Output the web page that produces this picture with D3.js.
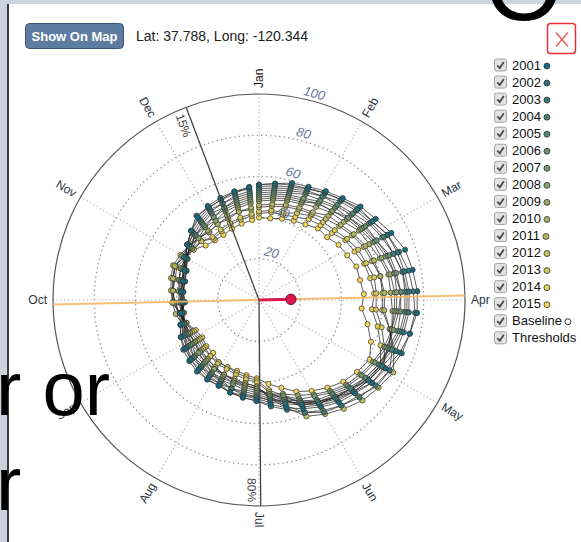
<!DOCTYPE html>
<html><head><meta charset="utf-8">
<script src="https://cdn.jsdelivr.net/npm/d3@7"></script>
<style>
html,body{margin:0;padding:0;background:#c9d4de;overflow:hidden;}
svg{display:block;font-family:"Liberation Sans",Arial,Helvetica,sans-serif;}
</style></head><body>
<script>
// ---------- data ----------
const years = [2001,2002,2003,2004,2005,2006,2007,2008,2009,2010,2011,2012,2013,2014,2015];
// 8-day composites, day of year of each composite
const compositeDays = d3.range(1, 366, 8);
const ndvi2001 = [56,57,59,60,62,64,67,69,72,75,76,77,77,75,73,70,68,65,63,60,57,54,51,49,48,47,46,46,45,44,43,42,40,39,37,38,38,39,42,44,47,50,52,53,54,55];
const ndvi2002 = [56,57,58,59,61,63,65,67,70,71,72,73,73,72,71,68,66,64,61,58,55,52,50,48,47,47,45,45,44,44,42,41,39,38,36,37,37,38,41,44,47,49,51,52,53,55];
const ndvi2003 = [55,56,57,59,61,63,66,67,70,72,74,75,76,75,74,72,70,68,65,63,59,55,52,49,48,47,46,46,46,45,44,42,40,38,37,37,38,38,41,44,47,51,51,52,54,54];
const ndvi2004 = [54,55,56,58,59,62,64,66,68,69,71,72,72,71,69,67,66,62,60,57,54,51,49,47,47,45,45,44,43,43,42,40,38,38,36,37,38,39,40,43,46,48,50,50,52,53];
const ndvi2005 = [53,54,55,57,59,60,62,65,67,69,71,71,71,70,68,66,64,61,58,56,53,50,49,47,46,45,44,43,43,42,41,40,39,38,38,38,39,39,41,44,45,47,49,50,51,52];
const ndvi2006 = [52,53,54,56,57,59,61,63,64,67,68,69,69,69,67,67,65,63,60,57,54,51,48,46,45,45,43,43,42,42,40,39,38,37,37,37,37,38,40,43,44,46,48,48,50,51];
const ndvi2007 = [51,52,53,54,56,58,59,62,64,66,67,69,68,67,66,64,62,60,57,54,52,48,47,45,44,43,43,42,41,41,39,39,38,38,37,38,38,40,41,42,44,45,46,48,49,50];
const ndvi2008 = [50,51,52,53,55,56,59,61,63,65,67,67,67,66,65,63,61,59,56,53,50,47,46,44,43,42,42,42,40,39,39,38,38,37,38,38,39,39,41,42,44,44,46,47,48,49];
const ndvi2009 = [49,50,51,52,55,56,58,60,62,63,65,66,66,66,67,66,64,62,59,57,53,49,46,43,42,42,41,40,39,38,38,37,38,38,38,39,40,41,41,42,42,44,44,46,47,48];
const ndvi2010 = [48,49,50,51,53,55,56,59,60,62,64,64,65,66,67,68,66,64,60,58,55,50,47,43,42,41,40,40,40,39,37,38,37,38,39,39,40,41,41,41,42,42,44,44,46,47];
const ndvi2011 = [46,47,48,49,50,53,54,56,58,59,60,61,61,65,69,72,71,67,65,62,59,53,47,42,41,41,40,39,38,38,37,38,39,41,42,42,43,44,43,43,42,41,42,43,44,45];
const ndvi2012 = [45,46,47,48,49,51,53,55,57,58,60,60,60,65,70,74,72,70,67,64,61,54,48,42,41,40,40,39,38,37,36,37,38,39,42,43,44,45,44,43,42,41,42,42,44,44];
const ndvi2013 = [43,44,44,46,48,49,50,52,54,55,57,57,57,61,65,69,68,64,62,59,56,50,45,40,39,38,37,37,36,36,35,36,37,39,41,42,43,44,42,41,40,38,39,40,41,42];
const ndvi2014 = [42,43,43,44,46,47,48,51,52,54,55,56,55,59,63,67,65,62,60,58,54,48,44,39,38,37,36,36,36,35,34,35,37,39,42,42,43,44,42,40,40,37,38,39,40,41];
const ndvi2015 = [40,40,41,42,43,45,45,47,48,50,50,51,50,54,58,61,59,57,54,51,48,44,41,38,37,36,36,36,34,34,33,34,37,39,41,42,42,43,41,40,37,36,36,37,38,39];
const series = [ndvi2001,ndvi2002,ndvi2003,ndvi2004,ndvi2005,ndvi2006,ndvi2007,ndvi2008,ndvi2009,ndvi2010,ndvi2011,ndvi2012,ndvi2013,ndvi2014,ndvi2015];
const monthLabels = ["Jan","Feb","Mar","Apr","May","Jun","Jul","Aug","Sep","Oct","Nov","Dec"];
const radialTicks = [20,40,60,80,100];
const thresholdLabels = ["15%","80%"];
const thresholdDays = [345,183];
const baselineDay = 91;
const centroidDay = 91;
const centroidValue = 15.5;
const legendExtras = ["Baseline","Thresholds"];
const latText = "Lat: 37.788, Long: -120.344";

// ---------- layout ----------
const W = 581, H = 542, cx = 259, cy = 300, R = 206;
const svg = d3.select("body").append("svg").attr("width", W).attr("height", H);

svg.append("rect").attr("width", W).attr("height", H).attr("fill", "#c9d4de");
svg.append("rect").attr("x", 9).attr("y", 4).attr("width", W - 9).attr("height", H - 4).attr("fill", "#fff");
svg.append("line").attr("x1", 8).attr("x2", 8).attr("y1", 4).attr("y2", H).attr("stroke", "#3a3a3a").attr("stroke-width", 2);

// button + coordinates
svg.append("rect").attr("x", 25.5).attr("y", 23.5).attr("width", 98).attr("height", 25).attr("rx", 4)
  .attr("fill", "#5d7ca2").attr("stroke", "#3d5473").attr("stroke-width", 1);
svg.append("text").attr("x", 74.5).attr("y", 36).attr("text-anchor", "middle").attr("dominant-baseline", "central")
  .attr("fill", "#fff").attr("font-weight", "bold").attr("font-size", 13).text("Show On Map");
svg.append("text").attr("x", 136).attr("y", 41).attr("fill", "#222").attr("font-size", 14).text(latText);

// close button
svg.append("rect").attr("x", 547.5).attr("y", 23.5).attr("width", 28).attr("height", 30).attr("rx", 3)
  .attr("fill", "#fff").attr("stroke", "#e53238").attr("stroke-width", 1.5);
svg.append("path").attr("d", "M556,32.5L568,46.5M568,32.5L556,46.5").attr("stroke", "#f05a5f").attr("stroke-width", 1.5).attr("fill", "none");

// ---------- scales ----------
const ang = d3.scaleLinear().domain([1, 366]).range([0, 2 * Math.PI]);
const rad = d3.scaleLinear().domain([0, 100]).range([0, R]);
const monthAng = d3.scaleLinear().domain([0, 12]).range([0, 360]);
const color = d3.scaleLinear().domain([0, years.length - 1]).range(["#19697e", "#f2d657"]).interpolate(d3.interpolateRgb);
const px = (a, r) => r * Math.sin(a);
const py = (a, r) => -r * Math.cos(a);

const g = svg.append("g").attr("transform", `translate(${cx},${cy})`);

// grid circles
g.selectAll("circle.grid").data(radialTicks.slice(0, -1)).join("circle")
  .attr("r", d => rad(d)).attr("fill", "none").attr("stroke", "#8a8a8a")
  .attr("stroke-width", 1.3).attr("stroke-dasharray", "1.3,3.2");
// spokes
g.selectAll("line.spoke").data(monthLabels).join("line")
  .attr("x1", 0).attr("y1", 0)
  .attr("x2", (d, i) => px(monthAng(i) * Math.PI / 180, R))
  .attr("y2", (d, i) => py(monthAng(i) * Math.PI / 180, R))
  .attr("stroke", "#b0b0b0").attr("stroke-width", 1.2).attr("stroke-dasharray", "1.2,2.6");
// outer circle
g.append("circle").attr("r", rad(100)).attr("fill", "none").attr("stroke", "#555").attr("stroke-width", 1.2);

// month labels
g.selectAll("text.month").data(monthLabels).join("text")
  .each(function (d, i) {
    const deg = monthAng(i);
    let rot = deg - 90, anchor = "start";
    if (rot > 90) { rot -= 180; anchor = "end"; }
    const a = deg * Math.PI / 180, x = px(a, 212), y = py(a, 212);
    d3.select(this).attr("x", x).attr("y", y).attr("text-anchor", anchor)
      .attr("dominant-baseline", "central").attr("transform", `rotate(${rot},${x},${y})`);
  })
  .attr("font-size", 12).attr("fill", (d, i) => i === 0 ? "#111" : "#2a3444").text(d => d);

// ---------- series ----------
const line = d3.lineRadial().angle((d, i) => ang(compositeDays[i])).radius(d => rad(d));
const order = d3.range(series.length).reverse();
order.forEach(k => {
  const sg = g.append("g");
  sg.append("path").attr("d", line(series[k])).attr("fill", "none")
    .attr("stroke", "#1e1e1e").attr("stroke-opacity", 0.72).attr("stroke-width", 1);
});
order.forEach(k => {
  g.append("g").selectAll("circle").data(series[k]).join("circle")
    .attr("cx", (d, i) => px(ang(compositeDays[i]), rad(d)))
    .attr("cy", (d, i) => py(ang(compositeDays[i]), rad(d)))
    .attr("r", 2.6).attr("fill", color(k)).attr("stroke", "#333").attr("stroke-width", 0.7);
});

// baseline (orange diameter)
const ba = ang(baselineDay);
g.append("line").attr("x1", px(ba, -R)).attr("y1", py(ba, -R)).attr("x2", px(ba, R)).attr("y2", py(ba, R))
  .attr("stroke", "#f2b45a").attr("stroke-opacity", 0.85).attr("stroke-width", 2);

// thresholds
thresholdDays.forEach((day, j) => {
  const a = ang(day);
  g.append("line").attr("x1", 0).attr("y1", 0).attr("x2", px(a, R)).attr("y2", py(a, R))
    .attr("stroke", "#444").attr("stroke-width", 1.3);
  const deg = a * 180 / Math.PI;
  let rot = deg - 90, flip = false;
  if (rot > 90) { rot -= 180; flip = true; }
  const x = px(a, 190), y = py(a, 190);
  g.append("text").attr("transform", `translate(${x},${y}) rotate(${rot})`)
    .attr("x", 0).attr("y", 9).attr("text-anchor", "middle").attr("dominant-baseline", "central")
    .attr("font-size", 12).attr("fill", "#444").text(thresholdLabels[j]);
});

// radial tick labels
const ta = 15 * Math.PI / 180;
g.selectAll("text.rtick").data(radialTicks).join("text")
  .each(function (d) {
    const x = px(ta, rad(d) + 8), y = py(ta, rad(d) + 8);
    d3.select(this).attr("x", x).attr("y", y).attr("transform", `rotate(15,${x},${y})`);
  })
  .attr("text-anchor", "middle").attr("dominant-baseline", "central")
  .attr("font-size", 13).attr("font-style", "italic").attr("fill", "#62749a").text(d => d);

// centroid vector
const ca = ang(centroidDay);
g.append("line").attr("x1", 0).attr("y1", 0).attr("x2", px(ca, rad(centroidValue))).attr("y2", py(ca, rad(centroidValue)))
  .attr("stroke", "#e0164f").attr("stroke-width", 3);
g.append("circle").attr("cx", px(ca, rad(centroidValue))).attr("cy", py(ca, rad(centroidValue))).attr("r", 5.2)
  .attr("fill", "#e0164f").attr("stroke", "#6e0c28").attr("stroke-width", 1);

// ---------- legend ----------
const legendItems = years.map(String).concat(legendExtras);
const lg = svg.append("g");
legendItems.forEach((name, i) => {
  const y = 65 + i * 17.05;
  lg.append("rect").attr("x", 494.5).attr("y", y - 6).attr("width", 12).attr("height", 12).attr("rx", 2)
    .attr("fill", "#e2e2e2").attr("stroke", "#a3a3a3");
  lg.append("path").attr("d", `M497.3,${y + 0.3}L499.8,${y + 3}L503.8,${y - 3}`)
    .attr("stroke", "#4a4a4a").attr("stroke-width", 1.8).attr("fill", "none");
  const t = lg.append("text").attr("x", 512).attr("y", y).attr("dominant-baseline", "central")
    .attr("font-size", 13).attr("fill", "#111").text(name);
  const w = t.node().getComputedTextLength();
  if (i < years.length) {
    lg.append("circle").attr("cx", 512 + w + 6).attr("cy", y + 1).attr("r", 3)
      .attr("fill", color(i)).attr("stroke", "#333").attr("stroke-width", 0.8);
  } else if (name === "Baseline") {
    lg.append("circle").attr("cx", 512 + w + 6).attr("cy", y + 1).attr("r", 3)
      .attr("fill", "#fff").attr("stroke", "#333").attr("stroke-width", 1);
  }
});

// ---------- underlying page text bleeding over ----------
svg.append("text").attr("x", -4).attr("y", 415).attr("font-size", 76).attr("fill", "#000").text("r or");
svg.append("text").attr("x", -4).attr("y", 510).attr("font-size", 76).attr("fill", "#000").text("r");
svg.append("text").attr("x", 485).attr("y", 20).attr("font-size", 100).attr("fill", "#000").text("O");
</script>
</body></html>
